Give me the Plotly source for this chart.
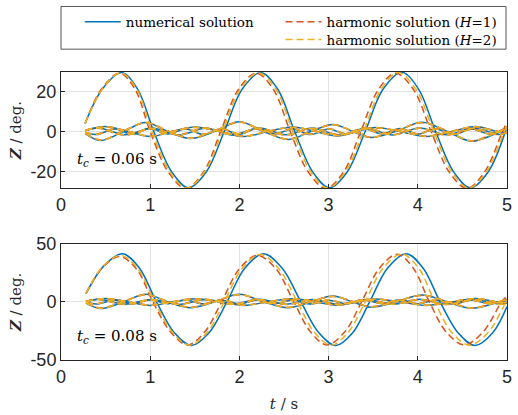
import plotly.graph_objects as go

# ---------------- data ----------------
# Top panel (t_c = 0.06 s): large oscillation
top_big_num_t = [0.27, 0.47, 0.68, 0.86, 1.04, 1.24, 1.43, 1.63, 1.83, 2.03, 2.24, 2.43, 2.62, 2.82, 3.01, 3.21, 3.41, 3.61, 3.82, 4.01, 4.20, 4.40, 4.59, 4.79, 5.00]
top_big_num_z = [4.0, 21.5, 29.3, 21.0, 0.0, -20.0, -28.0, -20.0, 0.0, 21.0, 29.3, 21.0, 0.0, -20.0, -28.0, -20.0, 0.0, 21.0, 29.5, 21.0, 0.0, -20.0, -28.0, -20.0, 2.5]
top_big_h1_t = [0.27, 0.46, 0.66, 0.83, 1.00, 1.20, 1.40, 1.60, 1.79, 1.99, 2.19, 2.38, 2.57, 2.77, 2.97, 3.17, 3.36, 3.56, 3.75, 3.95, 4.15, 4.35, 4.55, 4.75, 4.95, 5.00]
top_big_h1_z = [4.0, 21.5, 29.0, 21.0, 0.0, -20.0, -28.3, -20.0, 0.0, 21.0, 29.0, 21.0, 0.0, -20.0, -28.3, -20.0, 0.0, 21.0, 29.0, 21.0, 0.0, -20.0, -28.3, -20.0, 0.0, 4.5]
top_big_h2_t = [0.27, 0.47, 0.67, 0.85, 1.02, 1.22, 1.41, 1.61, 1.81, 2.01, 2.21, 2.41, 2.60, 2.80, 2.99, 3.19, 3.39, 3.59, 3.78, 3.98, 4.18, 4.38, 4.57, 4.77, 4.97, 5.00]
top_big_h2_z = [4.0, 21.5, 29.2, 21.0, 0.0, -20.0, -28.1, -20.0, 0.0, 21.0, 29.2, 21.0, 0.0, -20.0, -28.1, -20.0, 0.0, 21.0, 29.3, 21.0, 0.0, -20.0, -28.1, -20.0, 0.0, 2.5]

# Top panel: small oscillations (shared time points)
top_sa_t = [0.27, 0.45, 0.70, 0.95, 1.20, 1.45, 1.72, 2.00, 2.27, 2.55, 2.80, 3.05, 3.27, 3.47, 3.75, 4.05, 4.33, 4.60, 4.85, 5.00]
top_sa_num = [-1.0, -4.5, 0.0, 4.5, 0.0, -3.5, 0.0, 4.8, 0.0, -4.0, 0.0, 3.5, 0.0, -3.0, 0.0, 4.6, 0.0, -4.8, -1.5, 1.5]
top_sa_h1 = [-0.8, -4.2, 0.3, 4.3, 0.3, -3.3, 0.3, 4.6, 0.3, -3.8, 0.3, 3.3, 0.3, -2.8, 0.3, 4.4, 0.3, -4.6, -1.0, 2.0]
top_sa_h2 = [-0.9, -4.3, 0.2, 4.4, 0.2, -3.4, 0.2, 4.7, 0.2, -3.9, 0.2, 3.4, 0.2, -2.9, 0.2, 4.5, 0.2, -4.7, -1.2, 1.8]
top_sb_t = [0.27, 0.50, 0.75, 1.00, 1.25, 1.50, 1.78, 2.05, 2.32, 2.60, 2.85, 3.10, 3.32, 3.52, 3.80, 4.10, 4.38, 4.65, 4.88, 5.00]
top_sb_num = [0.5, 2.5, 0.0, -2.5, 0.0, 2.2, 0.0, -2.5, 0.0, 2.2, 0.0, -2.2, 0.0, 2.0, 0.0, -2.5, 0.0, 2.5, 0.0, -1.0]
top_sb_h1 = [0.6, 2.3, 0.2, -2.3, 0.2, 2.0, 0.2, -2.3, 0.2, 2.0, 0.2, -2.0, 0.2, 1.8, 0.2, -2.3, 0.2, 2.3, 0.2, -0.6]
top_sb_h2 = [0.5, 2.4, 0.1, -2.4, 0.1, 2.1, 0.1, -2.4, 0.1, 2.1, 0.1, -2.1, 0.1, 1.9, 0.1, -2.4, 0.1, 2.4, 0.1, -0.8]
top_sc_t = [0.27, 0.40, 0.60, 0.80, 1.00, 1.20, 1.40, 1.60, 1.80, 2.00, 2.20, 2.40, 2.60, 2.80, 3.00, 3.20, 3.40, 3.60, 3.80, 4.00, 4.20, 4.40, 4.60, 4.80, 5.00]
top_sc_num = [-0.5, -1.5, 1.2, -1.3, 1.5, -1.2, 1.3, -1.5, 1.2, -1.4, 1.5, -1.2, 1.3, -1.5, 1.2, -1.3, 1.4, -1.2, 1.5, -1.3, 1.2, -1.5, 1.3, -1.2, 1.0]
top_sc_h1 = [-0.3, -1.3, 1.4, -1.1, 1.3, -1.0, 1.5, -1.3, 1.4, -1.2, 1.3, -1.0, 1.5, -1.3, 1.4, -1.1, 1.2, -1.0, 1.3, -1.1, 1.4, -1.3, 1.1, -1.0, 1.2]
top_sc_h2 = [-0.4, -1.4, 1.3, -1.2, 1.4, -1.1, 1.4, -1.4, 1.3, -1.3, 1.4, -1.1, 1.4, -1.4, 1.3, -1.2, 1.3, -1.1, 1.4, -1.2, 1.3, -1.4, 1.2, -1.1, 1.1]
top_sd_t = [0.27, 0.42, 0.72, 1.02, 1.32, 1.62, 1.92, 2.22, 2.52, 2.82, 3.12, 3.42, 3.72, 4.02, 4.32, 4.62, 4.92, 5.00]
top_sd_num = [0.3, 1.8, -1.6, 1.7, -1.8, 1.6, -1.7, 1.8, -1.6, 1.7, -1.8, 1.6, -1.7, 1.8, -1.6, 1.7, -1.5, -0.5]
top_sd_h1 = [0.5, 1.6, -1.8, 1.5, -1.6, 1.8, -1.5, 1.6, -1.8, 1.5, -1.6, 1.8, -1.5, 1.6, -1.8, 1.5, -1.7, -0.2]
top_sd_h2 = [0.4, 1.7, -1.7, 1.6, -1.7, 1.7, -1.6, 1.7, -1.7, 1.6, -1.7, 1.7, -1.6, 1.7, -1.7, 1.6, -1.6, -0.3]

# Bottom panel (t_c = 0.08 s): large oscillation
bot_big_num_t = [0.28, 0.48, 0.69, 0.88, 1.07, 1.27, 1.46, 1.66, 1.86, 2.06, 2.27, 2.48, 2.69, 2.89, 3.08, 3.27, 3.46, 3.66, 3.87, 4.06, 4.25, 4.45, 4.64, 4.84, 5.00]
bot_big_num_z = [7.0, 31.0, 41.5, 29.0, 0.0, -26.5, -37.5, -26.5, 0.0, 29.0, 41.5, 29.0, 0.0, -26.5, -37.5, -26.5, 0.0, 29.0, 41.5, 29.0, 0.0, -26.5, -37.5, -26.5, -4.0]
bot_big_h1_t = [0.28, 0.47, 0.66, 0.85, 1.03, 1.23, 1.42, 1.61, 1.80, 2.00, 2.20, 2.41, 2.61, 2.80, 2.98, 3.18, 3.37, 3.57, 3.77, 3.95, 4.13, 4.32, 4.52, 4.73, 4.94, 5.00]
bot_big_h1_z = [7.5, 30.0, 39.0, 28.0, 0.0, -26.0, -37.0, -26.0, 0.0, 28.5, 40.0, 28.5, 0.0, -26.0, -37.0, -26.0, 0.0, 29.0, 41.0, 29.0, 0.0, -26.0, -37.0, -26.0, 0.0, 5.0]
bot_big_h2_t = [0.28, 0.47, 0.67, 0.86, 1.05, 1.25, 1.44, 1.64, 1.83, 2.03, 2.23, 2.44, 2.65, 2.84, 3.03, 3.22, 3.41, 3.61, 3.82, 4.01, 4.19, 4.38, 4.58, 4.79, 4.99, 5.00]
bot_big_h2_z = [7.2, 30.5, 40.0, 28.5, 0.0, -26.2, -37.2, -26.2, 0.0, 28.8, 40.8, 28.8, 0.0, -26.2, -37.2, -26.2, 0.0, 29.0, 41.2, 29.0, 0.0, -26.2, -37.2, -26.2, 0.0, 1.0]

# Bottom panel: small oscillations
bot_sa_t = [0.28, 0.45, 0.70, 0.95, 1.20, 1.45, 1.72, 2.00, 2.27, 2.55, 2.80, 3.05, 3.27, 3.47, 3.75, 4.05, 4.33, 4.60, 4.85, 5.00]
bot_sa_num = [-1.0, -5.7, 0.0, 6.5, 0.0, -5.0, 0.0, 6.5, 0.0, -5.0, 0.0, 5.0, 0.0, -4.5, 0.0, 6.0, 0.0, -5.5, -1.5, 2.0]
bot_sa_h1 = [-0.8, -5.3, 0.4, 6.1, 0.4, -4.6, 0.4, 6.1, 0.4, -4.6, 0.4, 4.6, 0.4, -4.1, 0.4, 5.6, 0.4, -5.1, -1.0, 2.6]
bot_sa_h2 = [-0.9, -5.5, 0.2, 6.3, 0.2, -4.8, 0.2, 6.3, 0.2, -4.8, 0.2, 4.8, 0.2, -4.3, 0.2, 5.8, 0.2, -5.3, -1.2, 2.3]
bot_sb_t = [0.28, 0.50, 0.75, 1.00, 1.25, 1.50, 1.78, 2.05, 2.32, 2.60, 2.85, 3.10, 3.32, 3.52, 3.80, 4.10, 4.38, 4.65, 4.88, 5.00]
bot_sb_num = [0.5, 3.0, 0.0, -3.0, 0.0, 2.8, 0.0, -3.0, 0.0, 2.8, 0.0, -2.8, 0.0, 2.5, 0.0, -3.0, 0.0, 3.0, 0.0, -1.0]
bot_sb_h1 = [0.6, 2.8, 0.2, -2.8, 0.2, 2.6, 0.2, -2.8, 0.2, 2.6, 0.2, -2.6, 0.2, 2.3, 0.2, -2.8, 0.2, 2.8, 0.2, -0.6]
bot_sb_h2 = [0.5, 2.9, 0.1, -2.9, 0.1, 2.7, 0.1, -2.9, 0.1, 2.7, 0.1, -2.7, 0.1, 2.4, 0.1, -2.9, 0.1, 2.9, 0.1, -0.8]
bot_sc_t = [0.28, 0.40, 0.60, 0.80, 1.00, 1.20, 1.40, 1.60, 1.80, 2.00, 2.20, 2.40, 2.60, 2.80, 3.00, 3.20, 3.40, 3.60, 3.80, 4.00, 4.20, 4.40, 4.60, 4.80, 5.00]
bot_sc_num = [-0.6, -1.8, 1.5, -1.6, 1.8, -1.5, 1.6, -1.8, 1.5, -1.7, 1.8, -1.5, 1.6, -1.8, 1.5, -1.6, 1.7, -1.5, 1.8, -1.6, 1.5, -1.8, 1.6, -1.5, 1.2]
bot_sc_h1 = [-0.4, -1.6, 1.7, -1.4, 1.6, -1.3, 1.8, -1.6, 1.7, -1.5, 1.6, -1.3, 1.8, -1.6, 1.7, -1.4, 1.5, -1.3, 1.6, -1.4, 1.7, -1.6, 1.4, -1.3, 1.5]
bot_sc_h2 = [-0.5, -1.7, 1.6, -1.5, 1.7, -1.4, 1.7, -1.7, 1.6, -1.6, 1.7, -1.4, 1.7, -1.7, 1.6, -1.5, 1.6, -1.4, 1.7, -1.5, 1.6, -1.7, 1.5, -1.4, 1.4]
bot_sd_t = [0.28, 0.42, 0.72, 1.02, 1.32, 1.62, 1.92, 2.22, 2.52, 2.82, 3.12, 3.42, 3.72, 4.02, 4.32, 4.62, 4.92, 5.00]
bot_sd_num = [0.3, 2.2, -2.0, 2.1, -2.2, 2.0, -2.1, 2.2, -2.0, 2.1, -2.2, 2.0, -2.1, 2.2, -2.0, 2.1, -1.9, -0.6]
bot_sd_h1 = [0.5, 2.0, -2.2, 1.9, -2.0, 2.2, -1.9, 2.0, -2.2, 1.9, -2.0, 2.2, -1.9, 2.0, -2.2, 1.9, -2.1, -0.3]
bot_sd_h2 = [0.4, 2.1, -2.1, 2.0, -2.1, 2.1, -2.0, 2.1, -2.1, 2.0, -2.1, 2.1, -2.0, 2.1, -2.1, 2.0, -2.0, -0.4]

x_ticks = [0, 1, 2, 3, 4, 5]
top_y_ticks = [-20, 0, 20]
bot_y_ticks = [-50, 0, 50]
series_names = ["numerical solution", "harmonic solution (<i>H</i>=1)", "harmonic solution (<i>H</i>=2)"]
panel_labels = ["<i>t<sub>c</sub></i> = 0.06 s", "<i>t<sub>c</sub></i> = 0.08 s"]

# ---------------- styling ----------------
BLUE = "#0072BD"
ORANGE = "#D95319"
YELLOW = "#EDB120"
AX = "#262626"
GRID = "#e3e3e3"
SANS = "Liberation Sans"
SERIF = "DejaVu Serif"

fig = go.Figure()

def add(t, z, color, dash, xa, ya, name=None, legend=None, show=False):
    fig.add_trace(go.Scatter(
        x=t, y=z, mode="lines", xaxis=xa, yaxis=ya,
        line=dict(color=color, width=1.5, dash=dash, shape="spline", smoothing=1.0),
        name=name, showlegend=show, legend=legend, hoverinfo="skip"))

panels = [
    ("x", "y",
     [(top_big_num_t, top_big_num_z), (top_sa_t, top_sa_num), (top_sb_t, top_sb_num), (top_sc_t, top_sc_num), (top_sd_t, top_sd_num)],
     [(top_big_h1_t, top_big_h1_z), (top_sa_t, top_sa_h1), (top_sb_t, top_sb_h1), (top_sc_t, top_sc_h1), (top_sd_t, top_sd_h1)],
     [(top_big_h2_t, top_big_h2_z), (top_sa_t, top_sa_h2), (top_sb_t, top_sb_h2), (top_sc_t, top_sc_h2), (top_sd_t, top_sd_h2)]),
    ("x2", "y2",
     [(bot_big_num_t, bot_big_num_z), (bot_sa_t, bot_sa_num), (bot_sb_t, bot_sb_num), (bot_sc_t, bot_sc_num), (bot_sd_t, bot_sd_num)],
     [(bot_big_h1_t, bot_big_h1_z), (bot_sa_t, bot_sa_h1), (bot_sb_t, bot_sb_h1), (bot_sc_t, bot_sc_h1), (bot_sd_t, bot_sd_h1)],
     [(bot_big_h2_t, bot_big_h2_z), (bot_sa_t, bot_sa_h2), (bot_sb_t, bot_sb_h2), (bot_sc_t, bot_sc_h2), (bot_sd_t, bot_sd_h2)]),
]

DASH = "7px,4px"
for pi, (xa, ya, num, h1, h2) in enumerate(panels):
    for k, (t, z) in enumerate(num):
        add(t, z, BLUE, "solid", xa, ya, series_names[0], "legend", pi == 0 and k == 0)
    for k, (t, z) in enumerate(h1):
        add(t, z, ORANGE, DASH, xa, ya, series_names[1], "legend2", pi == 0 and k == 0)
    for k, (t, z) in enumerate(h2):
        add(t, z, YELLOW, DASH, xa, ya, series_names[2], "legend3", pi == 0 and k == 0)

axis_common = dict(
    showline=True, linecolor=AX, linewidth=1, mirror=True,
    showgrid=True, gridcolor=GRID, gridwidth=1,
    ticks="inside", ticklen=4, tickcolor=AX,
    tickfont=dict(family=SANS, size=18, color=AX),
    zeroline=False,
)

H = 290.0
W = 451.0
def py(pix):
    return (362 - pix) / H
def px(pix):
    return (pix - 61) / W

top_dom = [py(189), 1.0]
bot_dom = [0.0, py(245)]

leg_common = dict(xanchor="left", yanchor="top", bgcolor="rgba(0,0,0,0)", borderwidth=0,
                  tracegroupgap=0, itemwidth=36,
                  font=dict(family=SERIF, size=13.5, color="black"))

fig.update_layout(
    width=518, height=415,
    margin=dict(l=61, r=6, t=72, b=53),
    paper_bgcolor="white", plot_bgcolor="white",
    xaxis=dict(domain=[0, 1], range=[0, 5], anchor="y",
               tickmode="array", tickvals=x_ticks, ticktext=[str(v) for v in x_ticks], **axis_common),
    yaxis=dict(domain=top_dom, range=[-28.2, 29.6], anchor="x",
               tickmode="array", tickvals=top_y_ticks, ticktext=[str(v) for v in top_y_ticks],
               title=dict(text="<b><i>Z</i></b> / deg.", font=dict(family=SERIF, size=15, color=AX), standoff=5),
               **axis_common),
    xaxis2=dict(domain=[0, 1], range=[0, 5], anchor="y2",
                tickmode="array", tickvals=x_ticks, ticktext=[str(v) for v in x_ticks],
                title=dict(text="<i>t</i> / s", font=dict(family=SERIF, size=15, color=AX), standoff=12),
                **axis_common),
    yaxis2=dict(domain=bot_dom, range=[-50, 50], anchor="x2",
                tickmode="array", tickvals=bot_y_ticks, ticktext=[str(v) for v in bot_y_ticks],
                title=dict(text="<b><i>Z</i></b> / deg.", font=dict(family=SERIF, size=15, color=AX), standoff=5),
                **axis_common),
    legend=dict(x=px(80), y=py(6), **leg_common),
    legend2=dict(x=px(283), y=py(6), **leg_common),
    legend3=dict(x=px(283), y=py(24), **leg_common),
    shapes=[dict(type="rect", xref="paper", yref="paper",
                 x0=0, x1=px(511), y0=py(49), y1=py(6),
                 line=dict(color="#555555", width=1), fillcolor="rgba(0,0,0,0)")],
    annotations=[
        dict(text=panel_labels[0], x=0.155, y=-13.8, xref="x", yref="y", xanchor="left", yanchor="middle",
             showarrow=False, font=dict(family=SERIF, size=15, color="black")),
        dict(text=panel_labels[1], x=0.155, y=-29.5, xref="x2", yref="y2", xanchor="left", yanchor="middle",
             showarrow=False, font=dict(family=SERIF, size=15, color="black")),
    ],
)

fig.write_html("out.html")
